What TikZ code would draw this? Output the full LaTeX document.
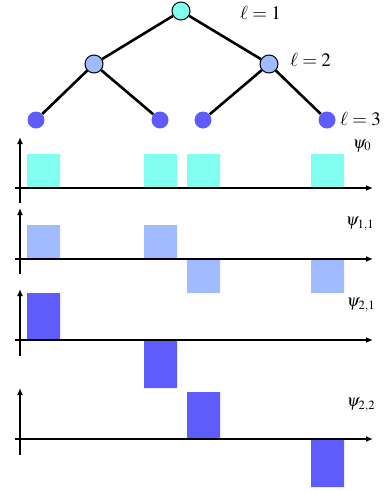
\documentclass[tikz,border=0pt]{standalone}
\usepackage{mathptmx}
\usetikzlibrary{arrows.meta}
\definecolor{lvlone}{HTML}{80FFF0}
\definecolor{lvltwo}{HTML}{A0BBFF}
\definecolor{lvlthree}{HTML}{5F5CFC}
\begin{document}
\begin{tikzpicture}[
    x=1pt, y=-1pt,
    % Styles
    vertex/.style={circle, inner sep=0pt, minimum size=18pt, draw=black, line width=1pt},
    leaf/.style={circle, inner sep=0pt, minimum size=17pt, fill=lvlthree},
    branch/.style={line width=2.6pt},
    axis/.style={line width=1.3pt, -{Latex[length=7pt,width=6pt]}},
    lbl/.style={font=\fontsize{17}{19}\selectfont, inner sep=0pt},
    lvl/.style={font=\fontsize{19}{21}\selectfont, inner sep=0pt, anchor=west},
  ]
  \useasboundingbox (0,0) rectangle (389,491);
  % tree
  \node[vertex, fill=lvlone] (r) at (181,11) {};
  \node[vertex, fill=lvltwo] (a) at (94,64) {};
  \node[vertex, fill=lvltwo] (b) at (269,64) {};
  \node[leaf] (a1) at (36,120) {};
  \node[leaf] (a2) at (160,120) {};
  \node[leaf] (b1) at (203,120) {};
  \node[leaf] (b2) at (327,120) {};
  \draw[branch] (r) -- (a) (r) -- (b);
  \draw[branch] (a) -- (a1) (a) -- (a2) (b) -- (b1) (b) -- (b2);
  \node[lvl] (l1) at (240,13) {$\ell = 1$};
  \node[lvl] (l2) at (290,60) {$\ell = 2$};
  \node[lvl] (l3) at (340,119) {$\ell = 3$};
  % bars
  \fill[lvlone] (27,154) rectangle (60,188) (144,154) rectangle (177,188)
                (187,154) rectangle (220,188) (311,154) rectangle (344,188);
  \fill[lvltwo] (27,225) rectangle (60,259) (144,225) rectangle (177,259)
                (187,259) rectangle (220,293) (311,259) rectangle (344,293);
  \fill[lvlthree] (27,293) rectangle (60,340) (144,340) rectangle (177,388);
  \fill[lvlthree] (187,392) rectangle (220,439) (311,439) rectangle (344,487);
  % axes
  \foreach \yo/\ytop/\ybot in {188/137/203, 259/208/274, 340/289/356, 439/388/455} {
    \draw[axis] (20,\ybot) -- (20,\ytop);
    \draw[axis] (15,\yo) -- (373,\yo);
  }
  \node[lbl] (p0) at (362,146) {$\psi_0$};
  \node[lbl] (p11) at (360,224) {$\psi_{1,1}$};
  \node[lbl] (p21) at (361,305) {$\psi_{2,1}$};
  \node[lbl] (p22) at (361,405) {$\psi_{2,2}$};
\end{tikzpicture}
\end{document}
